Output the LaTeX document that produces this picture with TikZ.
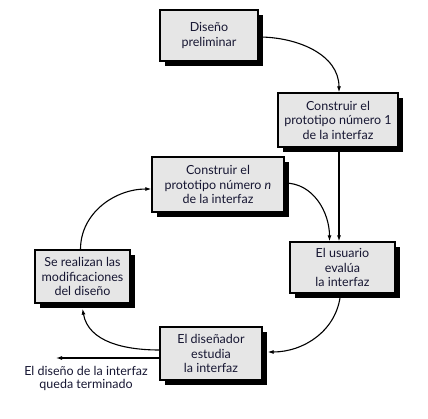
\documentclass[tikz,border=0pt]{standalone}
\usepackage{fontspec}
\setmainfont{Lato}
\usetikzlibrary{shadows,arrows.meta,calc}
\definecolor{boxgray}{RGB}{230,230,230}
\definecolor{txt}{RGB}{22,22,50}
\begin{document}
\begin{tikzpicture}[x=1pt,y=-1pt,
  box/.style={draw=black, fill=boxgray, line width=1.3pt, align=center, inner sep=0pt,
    text=txt, font=\fontsize{12.5}{14.5}\selectfont,
    general shadow={fill=black, shadow xshift=5pt, shadow yshift=-5pt}},
  conn/.style={line width=1.1pt, -{Latex[length=6pt,width=4pt]}}]
\useasboundingbox (0,0) rectangle (428,419);
\node[box, minimum width=98pt, minimum height=51pt] (A) at (209,35.5) {Diseño\\preliminar};
\node[box, minimum width=120pt, minimum height=54pt] (B) at (338,120) {Construir el\\prototipo número 1\\de la interfaz};
\node[box, minimum width=132pt, minimum height=55pt] (C) at (218,184.5) {Construir el\\prototipo número \textit{n}\\de la interfaz};
\node[box, minimum width=95pt, minimum height=53pt] (D) at (82.5,276.5) {Se realizan las\\modificaciones\\del diseño};
\node[box, minimum width=105pt, minimum height=51pt] (E) at (342.5,267.5) {El usuario\\evalúa\\la interfaz};
\node[box, minimum width=102pt, minimum height=53pt] (F) at (211,353.5) {El diseñador\\estudia\\la interfaz};
\node[text=txt, align=center, font=\fontsize{12.5}{13}\selectfont, inner sep=0pt] (T) at (86,378) {El diseño de la interfaz\\queda terminado};
\coordinate (X) at (56,358);
\draw[conn] ([yshift=-1.5pt]A.east) to[out=0,in=90] ([xshift=1pt]B.north);
\draw[conn] ([xshift=1pt]B.south) -- ([xshift=1pt]B.south |- E.north);
\draw[conn] ([yshift=1.5pt]C.east) to[out=0,in=90] ([xshift=-13pt]E.north);
\draw[conn] ([xshift=-2pt]E.south) to[out=-95,in=0] ([xshift=5pt,yshift=1.5pt]F.east);
\draw[conn] ([yshift=3.5pt]F.west) to[out=180,in=-80] ([yshift=-5pt]D.south);
\draw[conn] ([xshift=-2pt]D.north) to[out=90,in=180] ([yshift=-4.5pt]C.west);
\draw[conn] ([yshift=-4.5pt]F.west) -- (F.west |- X) -- (X);
\end{tikzpicture}
\end{document}
